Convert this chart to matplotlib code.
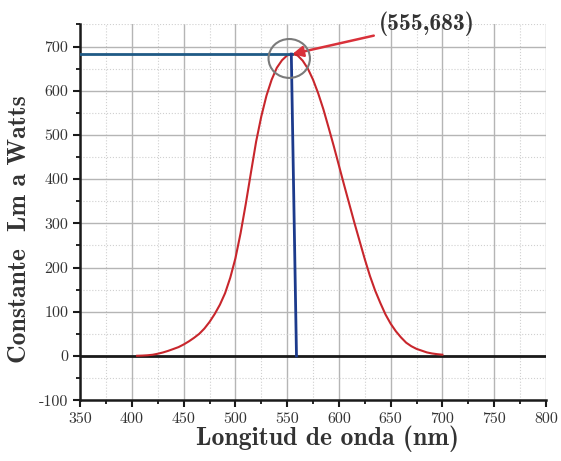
import matplotlib.pyplot as plt
from matplotlib.patches import Ellipse
from matplotlib.ticker import MultipleLocator

plt.rcParams['font.family'] = ['cmr10', 'DejaVu Serif']
plt.rcParams['axes.unicode_minus'] = False
plt.rcParams['mathtext.fontset'] = 'cm'

# curva de eficacia luminosa (lm/W)
longitud = [405, 410, 415, 420, 425, 430, 435, 440, 445, 450, 455, 460, 465,
            470, 475, 480, 485, 490, 495, 500, 505, 510, 515, 520, 525, 530,
            535, 540, 545, 550, 555, 560, 565, 570, 575, 580, 585, 590, 595,
            600, 605, 610, 615, 620, 625, 630, 635, 640, 645, 650, 655, 660,
            665, 670, 675, 680, 685, 690, 695, 700]
constante = [0.4, 0.8, 1.5, 2.7, 5, 7.9, 11.5, 15.7, 20, 26, 33, 41, 50,
             62, 77, 95, 116, 142, 177, 221, 278, 344, 415, 485, 542, 589,
             625, 652, 669, 680, 683, 680, 668, 650, 625, 594, 558, 517, 475,
             431, 387, 344, 301, 260, 219, 181, 148, 120, 94, 73, 56, 42,
             30, 22, 16, 12, 8, 5.6, 4, 2.8]

pico_x, pico_y = 555, 683
vertical_x = [554, 559]
vertical_y = [683, 0]

fig, ax = plt.subplots(figsize=(5.61, 4.61), dpi=100)
fig.subplots_adjust(left=0.143, right=0.973, bottom=0.132, top=0.947)

ax.set_xlim(350, 800)
ax.set_ylim(-100, 750)
ax.xaxis.set_major_locator(MultipleLocator(50))
ax.xaxis.set_minor_locator(MultipleLocator(25))
ax.yaxis.set_major_locator(MultipleLocator(100))
ax.yaxis.set_minor_locator(MultipleLocator(50))

ax.grid(True, which='major', color='#b5b5b5', linewidth=1.0)
ax.grid(True, which='minor', color='#d0d0d0', linewidth=0.8, linestyle=':')
ax.set_axisbelow(True)

ax.axhline(0, color='#1a1a1a', linewidth=2.0, zorder=3)
ax.plot(longitud, constante, color='#c8262c', linewidth=1.5, zorder=4)
ax.plot([350, pico_x], [pico_y, pico_y], color='#1f5a85', linewidth=2.0, zorder=5)
ax.plot(vertical_x, vertical_y, color='#1c3a8c', linewidth=2.0, zorder=5)

ax.add_patch(Ellipse((552, 673), 40, 88, fill=False, edgecolor='#7a7a7a',
                     linewidth=1.5, zorder=6))
ax.annotate('(555,683)', xy=(pico_x, pico_y), xytext=(639, 752),
            fontsize=17, fontweight='bold', family=['cmb10', 'DejaVu Serif'],
            color='#333333', ha='left', va='center', annotation_clip=False,
            arrowprops=dict(arrowstyle='-|>', color='#d9313a', lw=1.8,
                            mutation_scale=16, shrinkA=2, shrinkB=0))

for s in ['top', 'right']:
    ax.spines[s].set_visible(False)
for s in ['left', 'bottom']:
    ax.spines[s].set_linewidth(1.8)
    ax.spines[s].set_color('#1a1a1a')

ax.tick_params(which='major', direction='out', length=5, width=1.5,
               labelsize=11.5, colors='#1a1a1a', labelcolor='#333333')
ax.tick_params(which='minor', direction='out', length=3, width=1.2)

ax.set_xlabel('Longitud de onda (nm)', fontsize=18.5, family=['cmb10', 'DejaVu Serif'],
              color='#333333')
ax.set_ylabel('Constante  Lm a Watts', fontsize=18.5, family=['cmb10', 'DejaVu Serif'],
              color='#333333')
ax.xaxis.set_label_coords(0.53, -0.068)
ax.yaxis.set_label_coords(-0.105, 0.456)

fig.savefig('out.png', dpi=100)
